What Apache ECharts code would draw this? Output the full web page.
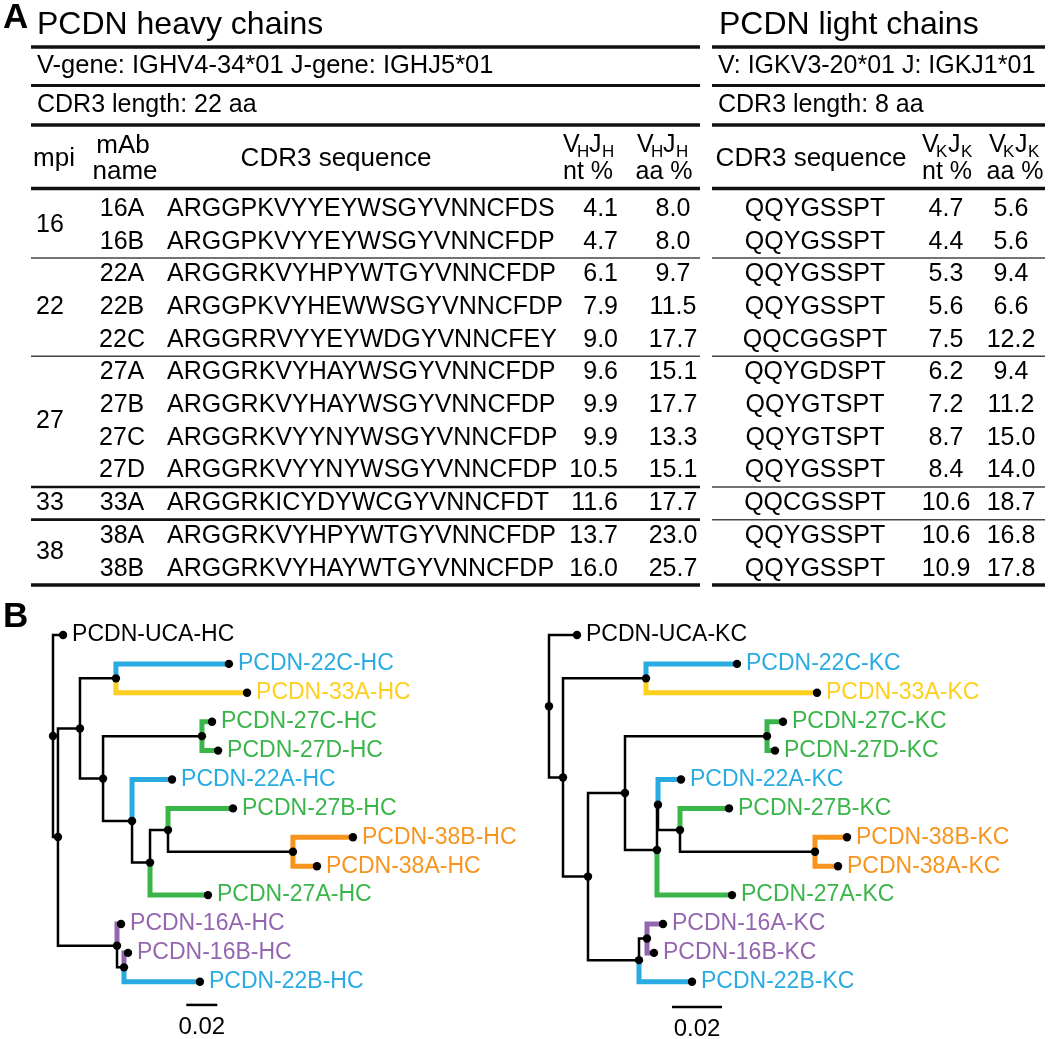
<!DOCTYPE html>
<html><head><meta charset="utf-8">
<script src="https://cdn.jsdelivr.net/npm/echarts@6/dist/echarts.min.js"></script>
<style>html,body{margin:0;padding:0;background:#fff}#c{width:1050px;height:1039px}</style>
</head><body><div id="c"></div>
<script>
// ================= DATA =================
const mpi    = ['16','16','22','22','22','27','27','27','27','33','38','38'];
const mAbs   = ['16A','16B','22A','22B','22C','27A','27B','27C','27D','33A','38A','38B'];
const hcCDR3 = ['ARGGPKVYYEYWSGYVNNCFDS','ARGGPKVYYEYWSGYVNNCFDP','ARGGRKVYHPYWTGYVNNCFDP',
                'ARGGPKVYHEWWSGYVNNCFDP','ARGGRRVYYEYWDGYVNNCFEY','ARGGRKVYHAYWSGYVNNCFDP',
                'ARGGRKVYHAYWSGYVNNCFDP','ARGGRKVYYNYWSGYVNNCFDP','ARGGRKVYYNYWSGYVNNCFDP',
                'ARGGRKICYDYWCGYVNNCFDT','ARGGRKVYHPYWTGYVNNCFDP','ARGGRKVYHAYWTGYVNNCFDP'];
const hcNt   = [4.1, 4.7, 6.1, 7.9, 9.0, 9.6, 9.9, 9.9, 10.5, 11.6, 13.7, 16.0];
const hcAa   = [8.0, 8.0, 9.7, 11.5, 17.7, 15.1, 17.7, 13.3, 15.1, 17.7, 23.0, 25.7];
const kcCDR3 = ['QQYGSSPT','QQYGSSPT','QQYGSSPT','QQYGSSPT','QQCGGSPT','QQYGDSPT',
                'QQYGTSPT','QQYGTSPT','QQYGSSPT','QQCGSSPT','QQYGSSPT','QQYGSSPT'];
const kcNt   = [4.7, 4.4, 5.3, 5.6, 7.5, 6.2, 7.2, 8.7, 8.4, 10.6, 10.6, 10.9];
const kcAa   = [5.6, 5.6, 9.4, 6.6, 12.2, 9.4, 11.2, 15.0, 14.0, 18.7, 16.8, 17.8];

// tree leaf order (top to bottom)
const leafOrder = ['UCA','22C','33A','27C','27D','22A','27B','38B','38A','27A','16A','16B','22B'];
// heavy-chain tree: node, parent, divergence from root
const hcNodes   = ['root','UCA','n1','n2','n3','22C','33A','n4','n5','27C','27D','n6','22A','n7','n8','27B','n9','38B','38A','27A','n10','16A','n11','16B','22B'];
const hcParents = [null,'root','root','n1','n2','n3','n3','n2','n4','n5','n5','n4','n6','n6','n7','n8','n8','n9','n9','n7','n1','n10','n10','n11','n11'];
const hcDepth   = [0,0.0065,0.0032,0.0174,0.0406,0.1135,0.1252,0.0323,0.0961,0.1026,0.1065,0.0510,0.0768,0.0626,0.0742,0.1161,0.1548,0.1935,0.1703,0.1000,0.0413,0.0439,0.0458,0.0484,0.0948];
// kappa-chain tree
const kcNodes   = ['root','UCA','n1','n3','22C','33A','n2','n4','n5','27C','27D','n6','n6a','22A','n8','27B','n9','38B','38A','27A','n10','n11','16A','16B','22B'];
const kcParents = [null,'root','root','n1','n3','n3','n1','n2','n4','n5','n5','n4','n6','n6a','n6a','n8','n8','n9','n9','n6','n2','n10','n11','n11','n10'];
const kcDepth   = [0,0.0112,0.0056,0.0388,0.0752,0.1072,0.0156,0.0304,0.0872,0.0936,0.0904,0.0432,0.0436,0.0528,0.0524,0.0720,0.1064,0.1192,0.1156,0.0732,0.0360,0.0392,0.0456,0.0420,0.0572];
const scaleBarLen = 0.02;

// ================= STYLE / LAYOUT =================
const FONT = '"Liberation Sans", Arial, Helvetica, sans-serif';
const GROUP_COLORS = {'16':'#9466B0','22':'#29ABE2','27':'#3AB54A','33':'#FFCF1F','38':'#F7941D'};
const COL = {mpi:50, mab:122, hcSeq:167, hcNt:618, hcAa:673, kcSeq:815, kcNt:946, kcAa:1011};
const TBL = {lx1:31, lx2:700, rx1:712, rx2:1045};
const FS = 25;

// ================= HELPERS =================
function buildTree(nodes, parents, depth) {
  const idx = {}; nodes.forEach((n,i)=>idx[n]=i);
  const children = nodes.map(()=>[]);
  parents.forEach((p,i)=>{ if (p !== null) children[idx[p]].push(i); });
  const y = [];
  function getY(i) {
    if (y[i] !== undefined) return y[i];
    if (!children[i].length) y[i] = leafOrder.indexOf(nodes[i]);
    else { const ys = children[i].map(getY); y[i] = (Math.min(...ys) + Math.max(...ys)) / 2; }
    return y[i];
  }
  nodes.forEach((_,i)=>getY(i));
  const branches = [], points = [];
  nodes.forEach((n,i)=>{
    const leaf = !children[i].length;
    const grp = (leaf && n !== 'UCA') ? n.slice(0,2) : null;
    points.push({x:depth[i], y:y[i], leaf, name:n, grp});
    if (parents[i] !== null) {
      const p = idx[parents[i]];
      branches.push({px:depth[p], py:y[p], x:depth[i], y:y[i], grp});
    }
  });
  branches.sort((a,b)=>(a.grp?1:0)-(b.grp?1:0));
  return {branches, points};
}
const hcTree = buildTree(hcNodes, hcParents, hcDepth);
const kcTree = buildTree(kcNodes, kcParents, kcDepth);

const groups = [];
mpi.forEach((m,i)=>{
  if (!groups.length || groups[groups.length-1].label !== m) groups.push({label:m, first:i, last:i});
  else groups[groups.length-1].last = i;
});

function txt(x, y, text, opt) {
  opt = opt || {};
  return {type:'text', x, y, silent:true, style:{text, fill:'#000', fontSize:opt.size||FS, fontFamily:FONT,
    fontWeight:opt.weight||'normal', align:opt.align||'left', verticalAlign:'middle'}};
}
function rule(x1, x2, y, w) {
  return {type:'line', silent:true, shape:{x1, y1:y, x2, y2:y}, style:{stroke:'#111', lineWidth:w}};
}
function vjHead(x, y, sub) {
  return [txt(x, y, 'V', {size:25}), txt(x+14, y+7, sub, {size:17}),
          txt(x+26, y, 'J', {size:25}), txt(x+39, y+7, sub, {size:17})];
}

// ================= STATIC HEADER (graphic) =================
const header = [
  txt(3, 18, 'A', {size:35, weight:'bold'}),
  txt(37, 25, 'PCDN heavy chains', {size:32}),
  txt(719, 25, 'PCDN light chains', {size:32}),
  rule(TBL.lx1, TBL.lx2, 47, 3.5), rule(TBL.rx1, TBL.rx2, 47, 3.5),
  txt(37, 66, 'V-gene: IGHV4-34*01 J-gene: IGHJ5*01', {size:25.5}),
  txt(718, 66, 'V: IGKV3-20*01 J: IGKJ1*01', {size:25}),
  rule(TBL.lx1, TBL.lx2, 85.5, 3), rule(TBL.rx1, TBL.rx2, 85.5, 3),
  txt(37, 105, 'CDR3 length: 22 aa'), txt(718, 105, 'CDR3 length: 8 aa'),
  rule(TBL.lx1, TBL.lx2, 125, 3.5), rule(TBL.rx1, TBL.rx2, 125, 3.5),
  txt(54, 159, 'mpi', {align:'center', size:26}),
  txt(123, 146, 'mAb', {align:'center', size:26}),
  txt(125, 172, 'name', {align:'center', size:26}),
  txt(336, 159, 'CDR3 sequence', {align:'center', size:26}),
  ...vjHead(563, 145, 'H'), txt(588, 172, 'nt %', {align:'center'}),
  ...vjHead(637, 145, 'H'), txt(664, 172, 'aa %', {align:'center'}),
  txt(811, 159, 'CDR3 sequence', {align:'center', size:26}),
  ...vjHead(922, 145, 'K'), txt(947, 172, 'nt %', {align:'center'}),
  ...vjHead(989, 145, 'K'), txt(1015, 172, 'aa %', {align:'center'}),
  rule(TBL.lx1, TBL.lx2, 188.5, 3.5), rule(TBL.rx1, TBL.rx2, 188.5, 3.5),
  txt(3, 617, 'B', {size:35, weight:'bold'})
];

// ================= SERIES =================
function treeSeries(tree, gi, suffix, barX, barY) {
  return [
    {type:'custom', xAxisIndex:gi, yAxisIndex:gi, clip:false, z:2,
     data: tree.branches.map(b=>[b.x, b.y]),
     renderItem: (params, api) => {
       const b = tree.branches[params.dataIndex];
       const p1 = api.coord([b.px, b.py]), p2 = api.coord([b.px, b.y]), p3 = api.coord([b.x, b.y]);
       return {type:'polyline', shape:{points:[p1,p2,p3]},
               style:{stroke: b.grp ? GROUP_COLORS[b.grp] : '#000', lineWidth: b.grp ? 5 : 2.5, fill:null}};
     }},
    {type:'custom', xAxisIndex:gi, yAxisIndex:gi, clip:false, z:3,
     data: tree.points.map(p=>[p.x, p.y]),
     renderItem: (params, api) => {
       const p = tree.points[params.dataIndex];
       const c = api.coord([p.x, p.y]);
       const ch = [{type:'circle', shape:{cx:c[0], cy:c[1], r:4.2}, style:{fill:'#000'}}];
       if (p.leaf) ch.push({type:'text', x:c[0]+9, y:c[1], style:{text:'PCDN-'+p.name+'-'+suffix,
         fill: p.grp ? GROUP_COLORS[p.grp] : '#000', fontSize:23, fontFamily:FONT, align:'left', verticalAlign:'middle'}});
       return {type:'group', children:ch};
     }},
    {type:'custom', xAxisIndex:gi, yAxisIndex:gi, clip:false, z:3,
     data: [[barX, barY]],
     renderItem: (params, api) => {
       const a = api.coord([barX, barY]), b = api.coord([barX + scaleBarLen, barY]);
       return {type:'group', children:[
         {type:'line', shape:{x1:a[0], y1:a[1], x2:b[0], y2:b[1]}, style:{stroke:'#000', lineWidth:2.5}},
         {type:'text', x:(a[0]+b[0])/2, y:a[1]+22, style:{text:String(scaleBarLen), fill:'#000', fontSize:24,
           fontFamily:FONT, align:'center', verticalAlign:'middle'}}]};
     }}
  ];
}

const hidden = {show:false};
const option = {
  animation:false,
  backgroundColor:'#fff',
  graphic:{elements:header},
  grid:[
    {left:0, top:192.65, width:1050, height:392.4},
    {left:53, top:635, width:310, height:346.8},
    {left:549, top:635, width:500, height:346.8}
  ],
  xAxis:[
    {gridIndex:0, type:'value', min:0, max:1050, ...hidden},
    {gridIndex:1, type:'value', min:0, max:0.2, ...hidden},
    {gridIndex:2, type:'value', min:0, max:0.2, ...hidden}
  ],
  yAxis:[
    {gridIndex:0, type:'value', min:-0.5, max:11.5, inverse:true, ...hidden},
    {gridIndex:1, type:'value', min:0, max:12, inverse:true, ...hidden},
    {gridIndex:2, type:'value', min:0, max:12, inverse:true, ...hidden}
  ],
  series:[
    // table rows
    {type:'custom', xAxisIndex:0, yAxisIndex:0, clip:false,
     data: mAbs.map((_,i)=>[0,i]),
     renderItem: (params, api) => {
       const i = params.dataIndex;
       const y = api.coord([0, i])[1];
       const X = v => api.coord([v, i])[0];
       const t = (x, s, align) => ({type:'text', x:X(x), y, style:{text:s, fill:'#000', fontSize:FS,
         fontFamily:FONT, align, verticalAlign:'middle'}});
       return {type:'group', children:[
         t(COL.mab, mAbs[i], 'center'),
         t(COL.hcSeq, hcCDR3[i], 'left'),
         t(COL.hcNt, hcNt[i].toFixed(1), 'right'),
         t(COL.hcAa, hcAa[i].toFixed(1), 'center'),
         t(COL.kcSeq, kcCDR3[i], 'center'),
         t(COL.kcNt, kcNt[i].toFixed(1), 'center'),
         t(COL.kcAa, kcAa[i].toFixed(1), 'center')
       ]};
     }},
    // mpi group labels + separators
    {type:'custom', xAxisIndex:0, yAxisIndex:0, clip:false,
     data: groups.map(g=>[0, g.last]),
     renderItem: (params, api) => {
       const g = groups[params.dataIndex];
       const isLast = params.dataIndex === groups.length - 1;
       const yc = api.coord([0, (g.first + g.last) / 2])[1];
       const ys = api.coord([0, g.last + 0.5])[1];
       const lw = isLast ? 3.5 : (g.label === '27' || g.label === '33') ? 2.6 : 1.5;
       const col = isLast || lw > 2 ? '#111' : '#444';
       return {type:'group', children:[
         {type:'text', x:api.coord([COL.mpi, 0])[0], y:yc, style:{text:g.label, fill:'#000', fontSize:FS,
           fontFamily:FONT, align:'center', verticalAlign:'middle'}},
         {type:'line', shape:{x1:api.coord([TBL.lx1,0])[0], y1:ys, x2:api.coord([TBL.lx2,0])[0], y2:ys},
          style:{stroke:col, lineWidth:lw}},
         {type:'line', shape:{x1:api.coord([TBL.rx1,0])[0], y1:ys, x2:api.coord([TBL.rx2,0])[0], y2:ys},
          style:{stroke: isLast ? '#111' : '#444', lineWidth: isLast ? 3.5 : 1.5}}
       ]};
     }},
    ...treeSeries(hcTree, 1, 'HC', 0.086, 12.8),
    ...treeSeries(kcTree, 2, 'KC', 0.0492, 12.87)
  ]
};
const chart = echarts.init(document.getElementById('c'), null, {renderer:'canvas'});
chart.setOption(option);
</script>
</body></html>
